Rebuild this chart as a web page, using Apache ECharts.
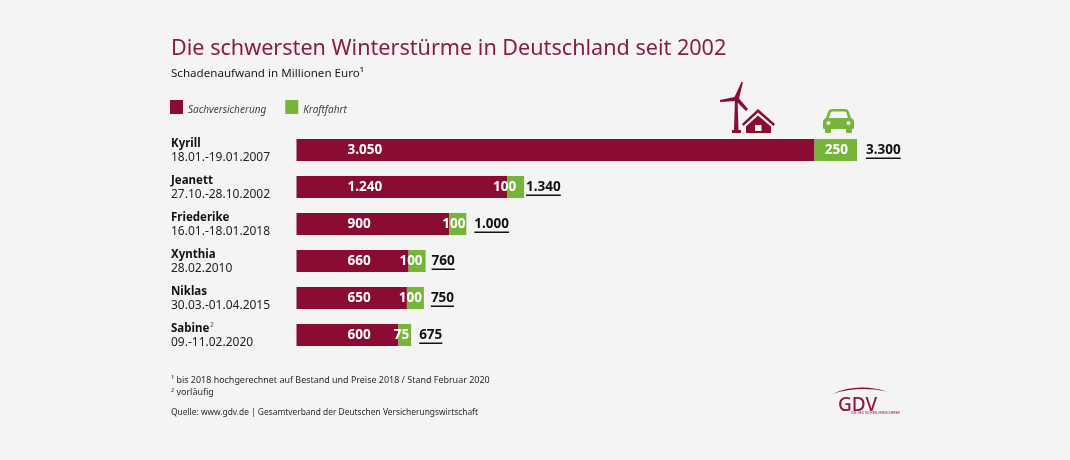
<!DOCTYPE html>
<html>
<head>
<meta charset="utf-8">
<title>Winterstürme</title>
<style>
  html, body { margin: 0; padding: 0; background: #f4f4f4; }
  #chart { width: 1070px; height: 460px; }
</style>
<script src="https://cdn.jsdelivr.net/npm/echarts@6/dist/echarts.min.js"></script>
</head>
<body>
<div id="chart"></div>
<script>
// Daten
var stormNames = ['Kyrill', 'Jeanett', 'Friederike', 'Xynthia', 'Niklas', 'Sabine²'];
var stormDates = ['18.01.-19.01.2007', '27.10.-28.10.2002', '16.01.-18.01.2018', '28.02.2010', '30.03.-01.04.2015', '09.-11.02.2020'];
var sachversicherung = [3050, 1240, 900, 660, 650, 600];
var kraftfahrt = [250, 100, 100, 100, 100, 75];
var totals = [3300, 1340, 1000, 760, 750, 675];

var RED = '#8a0c32';
var GREEN = '#76b43a';
var FONT = '"Noto Sans", sans-serif';

// Pixel-Korrekturen der Beschriftungen je Zeile
var greenLabelInset = [9, 8, 1, 3, 2, 2];
var totalGap = [9, 2, 8, 6, 7, 8];

function fmt(v) {
    return String(v).replace(/\B(?=(\d{3})+$)/g, '.');
}

var chart = echarts.init(document.getElementById('chart'));

function footText(y, text, size) {
    return {
        type: 'text', x: 171, y: y,
        style: { text: text, fill: '#2a2a2a', font: size + 'px ' + FONT, verticalAlign: 'middle' }
    };
}

// Piktogramme als Pfade
var iconPaths = [
    // Windrad
    { d: 'M735 98 L737.5 98 L738.5 130 L741 130 L741 133 L732 133 L732 130 L734 130 Z', fill: RED },
    { d: 'M734.5 97 L741.5 82 L743 82 L739 98.5 L748 109 L746 111 L736 101 L720 102 L720 100 Z', fill: RED },
    // Haus
    { d: 'M758 109 L775 124 L773.5 126 L758 112.5 L743.5 126 L742 124 Z', fill: RED },
    { d: 'M758 115.5 L771 126.5 L771 133 L746 133 L746 126.5 Z M755 125 L755 131 L761.5 131 L761.5 125 Z', fill: RED },
    // Auto
    { d: 'M832 109 L845 109 Q848 109 849 112 L851 118 Q854 119 854 122 L854 128 Q854 129 852 129 L852 132 Q852 133 851 133 L847 133 Q846 133 846 132 L846 129 L831 129 L831 132 Q831 133 830 133 L826 133 Q825 133 825 132 L825 129 Q823 129 823 128 L823 122 Q823 119 826 118 L828 112 Q829 109 832 109 Z M832 111.5 Q831 111.5 830.5 113 L829 118 L848 118 L846.5 113 Q846 111.5 845 111.5 Z M828.5 121 A2 2 0 1 0 828.5 125 A2 2 0 1 0 828.5 121 Z M848.5 121 A2 2 0 1 0 848.5 125 A2 2 0 1 0 848.5 121 Z', fill: GREEN },
    // GDV Bogen
    { d: 'M832 394 Q858 382.5 887 391.5 Q858 385.5 832 394 Z', fill: RED }
];

var option = {
    backgroundColor: '#f4f4f4',
    animation: false,
    title: [
        { text: 'Die schwersten Winterstürme in Deutschland seit 2002', left: 171, top: 38,
          padding: 0, textStyle: { color: '#8a1c41', fontFamily: FONT, fontWeight: 'normal', fontSize: 21.6 } },
        { text: 'Schadenaufwand in Millionen Euro¹', left: 171, top: 68,
          padding: 0, textStyle: { color: '#1a1a1a', fontFamily: FONT, fontWeight: 'normal', fontSize: 11.6 } }
    ],
    legend: {
        left: 170, top: 100, padding: 0, itemWidth: 13, itemHeight: 14, itemGap: 19,
        icon: 'rect', selectedMode: false,
        data: ['Sachversicherung', 'Kraftfahrt'],
        formatter: '{a|{name}}',
        textStyle: {
            rich: { a: { color: '#444', fontFamily: FONT, fontStyle: 'italic', fontSize: 10, padding: [6, 0, 0, 0] } }
        }
    },
    grid: { left: 296.5, top: 131.5, width: 560.5, height: 222 },
    xAxis: { type: 'value', min: 0, max: 3300, show: false },
    yAxis: {
        type: 'category', inverse: true, data: stormNames,
        axisLine: { show: false }, axisTick: { show: false },
        axisLabel: {
            align: 'left', margin: 125.5,
            formatter: function (name, i) {
                var label = '{n|' + name.replace('²', '') + '}' + (name.indexOf('²') > -1 ? '{s|²}' : '');
                return label + '\n{d|' + stormDates[i] + '}';
            },
            rich: {
                n: { fontFamily: FONT, fontWeight: 'bold', fontSize: 11.5, color: '#111', lineHeight: 14, padding: [2, 0, 0, 0], align: 'left' },
                s: { fontFamily: FONT, fontSize: 10, color: '#555', lineHeight: 14, padding: [0, 0, 0, 1], align: 'left' },
                d: { fontFamily: FONT, fontSize: 12, color: '#222', lineHeight: 14, padding: [2, 0, 0, 0], align: 'left' }
            }
        }
    },
    series: [
        {
            name: 'Sachversicherung', type: 'bar', stack: 'a', barWidth: 22, data: sachversicherung,
            itemStyle: { color: RED },
            label: { show: true, position: 'insideLeft', distance: 51, offset: [0, 0.5], color: '#fff', fontFamily: FONT,
                     fontWeight: 'bold', fontSize: 13.5, formatter: function (p) { return fmt(p.value); } }
        },
        {
            name: 'Kraftfahrt', type: 'bar', stack: 'a', barWidth: 22,
            data: kraftfahrt.map(function (v, i) {
                return { value: v, label: { distance: greenLabelInset[i] } };
            }),
            itemStyle: { color: GREEN },
            label: { show: true, position: 'insideRight', offset: [0, 0.5], color: '#fff', fontFamily: FONT,
                     fontWeight: 'bold', fontSize: 13.5 }
        },
        {
            // Summen, unterstrichen
            name: 'Summe', type: 'custom', silent: true,
            data: totals.map(function (v, i) { return [v, i]; }),
            encode: { x: 0, y: 1 },
            renderItem: function (params, api) {
                var p = api.coord([api.value(0), api.value(1)]);
                var txt = fmt(api.value(0));
                var font = 'bold 13.5px ' + FONT;
                var w = echarts.format.getTextRect(txt, font).width;
                var x = p[0] + totalGap[params.dataIndex];
                return {
                    type: 'group',
                    children: [
                        { type: 'text', x: x, y: p[1] + 0.5,
                          style: { text: txt, font: font, fill: '#111', verticalAlign: 'middle' } },
                        { type: 'rect', shape: { x: x, y: p[1] + 7.5, width: w, height: 1.5 },
                          style: { fill: '#111' } }
                    ]
                };
            }
        },
        {
            name: 'Icons', type: 'custom', coordinateSystem: 'none', silent: true, data: [0],
            renderItem: function () {
                return {
                    type: 'group',
                    children: iconPaths.map(function (ic) {
                        return { type: 'path', shape: { pathData: ic.d }, style: { fill: ic.fill } };
                    })
                };
            }
        }
    ],
    graphic: [
        footText(380, '¹ bis 2018 hochgerechnet auf Bestand und Preise 2018 / Stand Februar 2020', 8.95),
        footText(392, '² vorläufig', 8.95),
        footText(413, 'Quelle: www.gdv.de | Gesamtverband der Deutschen Versicherungswirtschaft', 8.4),
        { type: 'text', x: 838, y: 396, style: { text: 'GDV', font: '500 19px ' + FONT, fill: '#8a1c41' } },
        { type: 'text', x: 851, y: 412, style: { text: 'DIE DEUTSCHEN VERSICHERER', font: '3.4px ' + FONT, fill: '#8a1c41' } }
    ]
};
chart.setOption(option);
</script>
</body>
</html>
